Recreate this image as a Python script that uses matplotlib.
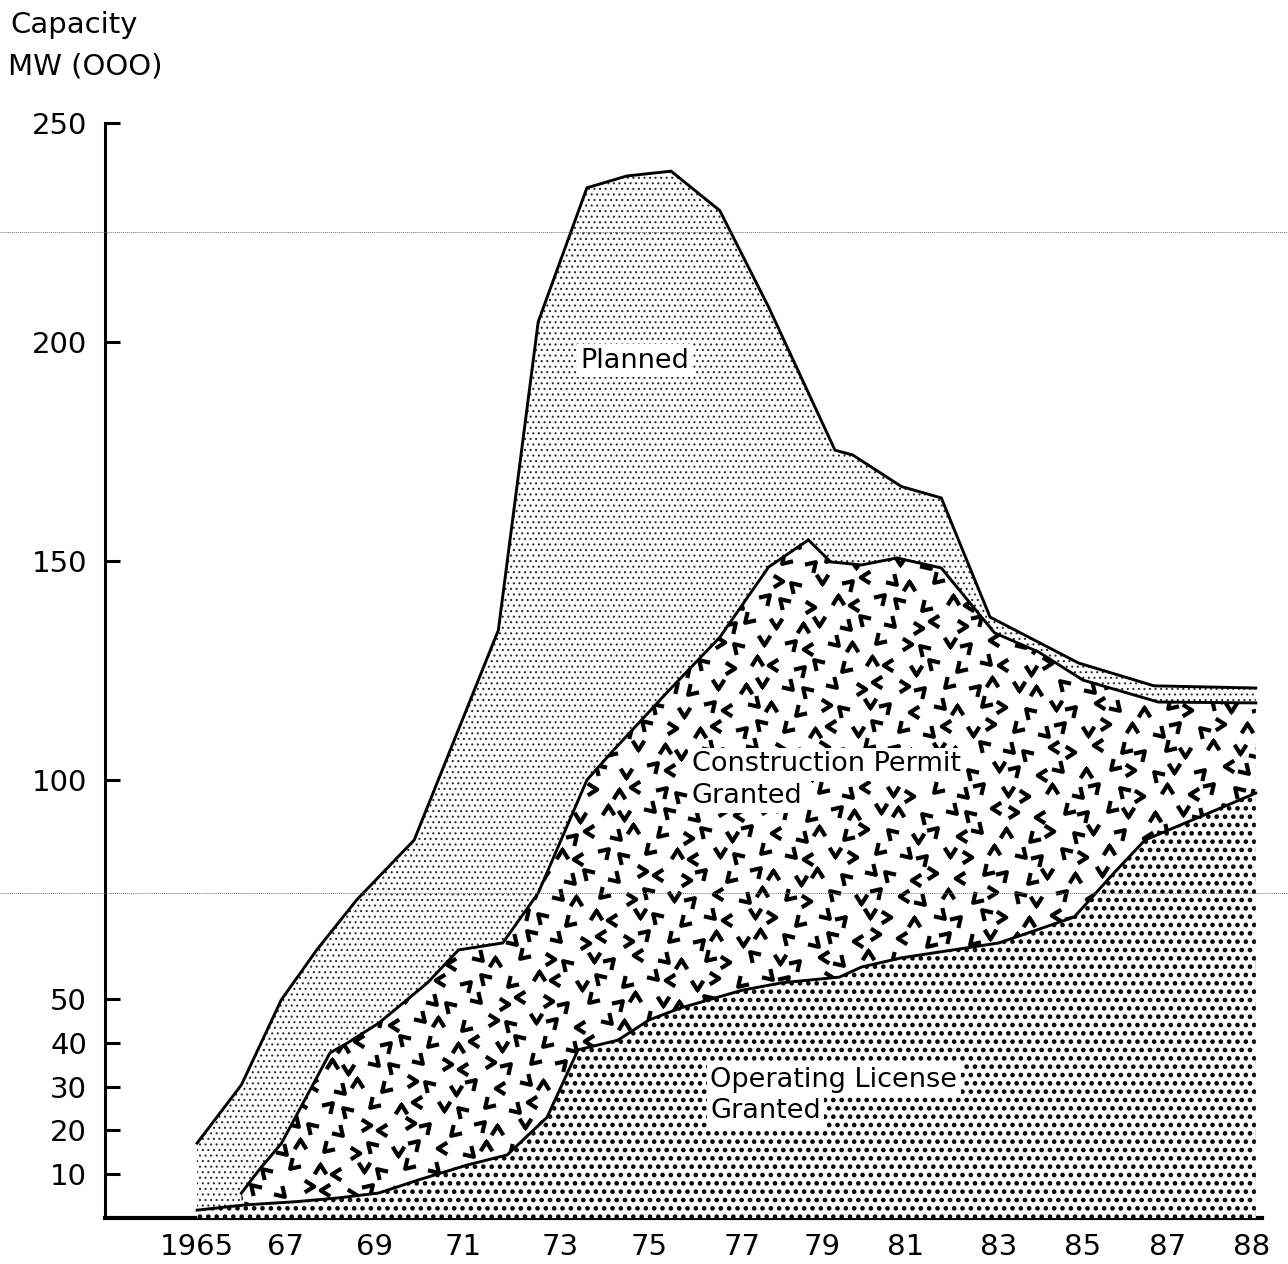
import numpy as np
import matplotlib
matplotlib.use('Agg')
import matplotlib.pyplot as plt
from matplotlib.markers import MarkerStyle
from matplotlib.transforms import Affine2D
from matplotlib.path import Path
from matplotlib.lines import Line2D

# ---------------- data ----------------
planned_years = [1965.0, 1966.0, 1966.9, 1967.7, 1968.6, 1969.9, 1971.8, 1972.7,
                 1973.8, 1974.7, 1975.7, 1976.8, 1977.9, 1979.4, 1979.8, 1980.9,
                 1981.8, 1982.9, 1984.9, 1986.6, 1988.9]
planned_vals = [17.1, 30.4, 49.8, 61.2, 72.6, 86.3, 134.2, 204.6,
                235.2, 237.9, 239.0, 230.0, 208.0, 175.3, 174.2, 167.0,
                164.4, 137.2, 126.7, 121.5, 121.0]

cp_years = [1966.0, 1966.4, 1966.9, 1968.0, 1968.4, 1969.1, 1970.2, 1970.9,
            1971.9, 1972.7, 1973.8, 1974.4, 1975.6, 1976.8, 1977.9, 1978.8,
            1979.3, 1980.0, 1980.8, 1981.8, 1983.0, 1984.0, 1985.0, 1986.7, 1988.9]
cp_vals = [5.7, 11.0, 17.0, 37.7, 40.0, 44.5, 53.7, 61.2,
           62.8, 74.2, 100.0, 106.8, 119.9, 132.6, 148.6, 154.8,
           149.8, 149.1, 150.7, 148.4, 133.6, 129.2, 122.8, 117.8, 117.6]

ol_years = [1965.0, 1966.1, 1967.2, 1968.2, 1969.1, 1970.0, 1971.1, 1972.0,
            1972.9, 1973.6, 1974.5, 1975.2, 1975.9, 1977.3, 1978.2, 1979.5,
            1980.0, 1980.9, 1983.1, 1984.8, 1985.7, 1986.4, 1988.9]
ol_vals = [1.8, 3.0, 3.7, 4.6, 5.7, 8.7, 12.1, 14.4,
           23.0, 38.4, 40.6, 45.2, 47.9, 52.0, 53.7, 55.0,
           57.3, 59.4, 62.8, 68.7, 78.8, 86.3, 97.0]

x_tick_pos = [1965, 1967, 1969, 1971, 1973.2, 1975.2, 1977.3, 1979.1, 1981,
              1983.1, 1985, 1986.9, 1988.8]
x_tick_labels = ["1965", "67", "69", "71", "73", "75", "77", "79", "81",
                 "83", "85", "87", "88"]
y_ticks = [10, 20, 30, 40, 50, 100, 150, 200, 250]
y_tick_labels = ["10", "20", "30", "40", "50", "100", "150", "200", "250"]

# ---------------- figure ----------------
plt.rcParams['font.family'] = ['DejaVu Sans']
W, H = 1288, 1264
fig = plt.figure(figsize=(W / 100, H / 100), dpi=100)
ax = fig.add_axes([105 / W, 1 - 1218 / H, (1262 - 105) / W, (1218 - 123) / H])
ax.set_xlim(1962.92, 1989.04)
ax.set_ylim(0, 250)


def hatch_fill(x, y, hatch, lw, color, z):
    plt.rcParams['hatch.linewidth'] = lw
    coll = ax.fill_between(x, 0, y, facecolor='white', edgecolor=color,
                           linewidth=0, hatch=hatch, zorder=z)
    if hasattr(coll, 'set_hatch_linewidth'):
        coll.set_hatch_linewidth(lw)
    return coll


# Planned (fine light stipple)
hatch_fill(planned_years, planned_vals, '...', 0.75, '0.15', 1)
# Construction permit (white + chevron texture)
plt.rcParams['hatch.linewidth'] = 1.0
cp_coll = ax.fill_between(cp_years, 0, cp_vals, facecolor='white',
                          edgecolor='none', linewidth=0, zorder=2)
# Operating license (coarse dark dots)
hatch_fill(ol_years, ol_vals, '..', 2.1, 'black', 4)

# chevron texture clipped to the construction-permit area
chev = Path([(-1.0, -0.8), (0.0, 0.8), (1.0, -0.8)],
            [Path.MOVETO, Path.LINETO, Path.LINETO])
dx = 23 / 44.3
dy = 21 / 4.38
clip_path = cp_coll.get_paths()[0]
groups = {}
j = 0
yy = 1.5
while yy < 160:
    i = 0
    xx = 1965.6 + (j % 2) * dx / 2
    while xx < 1989.2:
        k = (3 * i + 5 * j + (i * j) % 3) % 8
        jx = (((i * 7 + j * 3) % 5) - 2) * 0.05
        jy = (((i * 3 + j * 5) % 5) - 2) * 0.5
        groups.setdefault(k, ([], []))
        groups[k][0].append(xx + jx)
        groups[k][1].append(yy + jy)
        xx += dx
        i += 1
    yy += dy
    j += 1

for k, (gx, gy) in groups.items():
    ms = MarkerStyle(chev, transform=Affine2D().rotate_deg(45 * k))
    ln, = ax.plot(gx, gy, linestyle='none', marker=ms, markersize=8.5,
                  markeredgewidth=3.0, markerfacecolor='none',
                  markeredgecolor='black', zorder=3)
    ln.set_clip_path(clip_path, ax.transData)

# boundary lines
for xs, ys in [(planned_years, planned_vals), (cp_years, cp_vals), (ol_years, ol_vals)]:
    ax.plot(xs, ys, color='black', linewidth=2.1, zorder=6,
            solid_joinstyle='miter')

# in-plot labels
box = dict(facecolor='white', edgecolor='none', pad=2.5)
lab_kw = dict(fontsize=19.5, va='baseline', ha='left', bbox=box, zorder=8)
ax.text(1973.65, 194.1, "Planned", **lab_kw)
ax.text(1976.17, 102.0, "Construction Permit", **lab_kw)
ax.text(1976.17, 94.7, "Granted", **lab_kw)
ax.text(1976.58, 29.9, "Operating License", **lab_kw)
ax.text(1976.58, 22.8, "Granted", **lab_kw)

# axes styling
for s in ['top', 'right']:
    ax.spines[s].set_visible(False)
ax.spines['left'].set_linewidth(2.2)
ax.spines['bottom'].set_linewidth(3.0)
ax.set_yticks(y_ticks)
ax.set_yticklabels(y_tick_labels)
ax.set_xticks(x_tick_pos)
ax.set_xticklabels(x_tick_labels)
ax.tick_params(axis='y', direction='in', length=11, width=2.2, pad=13,
               labelsize=21)
ax.tick_params(axis='x', length=0, pad=11, labelsize=21)

# axis title
fig.text(10 / W, 1 - 33 / H, "Capacity", fontsize=21, ha='left', va='baseline')
fig.text(8 / W, 1 - 74 / H, "MW (OOO)", fontsize=21, ha='left', va='baseline')

# faint horizontal scan lines visible in the original
for py in (232, 893):
    fig.add_artist(Line2D([0, 1], [1 - py / H, 1 - py / H], transform=fig.transFigure,
                          color='0.45', linewidth=0.7, linestyle=(0, (1, 1)),
                          zorder=10))

fig.savefig('out.png', dpi=100)
